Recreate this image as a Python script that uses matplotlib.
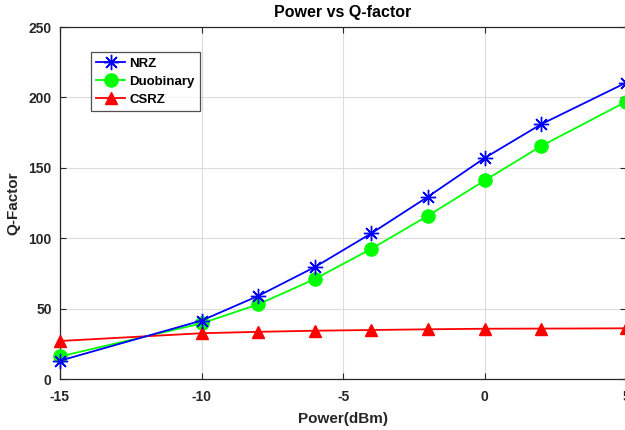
import matplotlib
matplotlib.use("Agg")
import matplotlib.pyplot as plt

# Launch power sweep (dBm) and Q-factor per modulation format
power_dbm = [-15, -10, -8, -6, -4, -2, 0, 2, 5]
q_nrz = [13, 41.5, 59, 79.5, 103.5, 129.5, 157, 181, 210.5]
q_duobinary = [16, 39.5, 53, 71, 92.5, 116, 141, 165.5, 197]
q_csrz = [27, 32.5, 33.5, 34.3, 34.8, 35.3, 35.7, 35.8, 36]

x_ticks = [-15, -10, -5, 0, 5]
y_ticks = [0, 50, 100, 150, 200, 250]

plt.rcParams["font.family"] = ["Liberation Sans", "DejaVu Sans"]

fig = plt.figure(figsize=(6.25, 4.3), dpi=100)
ax = fig.add_axes([0.096, 0.1186, 0.906, 0.8186])

ax.plot(power_dbm, q_nrz, color="#0000ff", lw=1.3, marker=(8, 2, 0),
        markersize=11, markeredgewidth=1.0, label="NRZ", clip_on=False, zorder=4)
ax.plot(power_dbm, q_duobinary, color="#00ff00", lw=1.3, marker="o",
        markersize=9.5, markerfacecolor="#00ff00", markeredgecolor="#00ff00",
        label="Duobinary", clip_on=False, zorder=3)
ax.plot(power_dbm, q_csrz, color="#ff0000", lw=1.3, marker="^",
        markersize=8.5, markerfacecolor="#ff0000", markeredgecolor="#ff0000",
        label="CSRZ", clip_on=False, zorder=3)

ax.set_xlim(-15, 5)
ax.set_ylim(0, 250)
ax.set_xticks(x_ticks)
ax.set_yticks(y_ticks)
ax.set_xticklabels([str(t) for t in x_ticks])
ax.grid(True, color="#dcdcdc", lw=0.8)
ax.set_axisbelow(True)

for side in ax.spines.values():
    side.set_color("#262626")
    side.set_linewidth(0.9)

ax.tick_params(direction="in", top=True, right=True, length=4,
               colors="#262626", labelsize=10, width=0.8)
ax.tick_params(axis="x", pad=8)
ax.tick_params(axis="y", pad=6)
for lbl in ax.get_xticklabels() + ax.get_yticklabels():
    lbl.set_fontweight("bold")

ax.set_title("Power vs Q-factor", fontsize=11.5, fontweight="bold", pad=7)
ax.set_xlabel("Power(dBm)", fontsize=11, fontweight="bold", color="#262626", labelpad=6)
ax.set_ylabel("Q-Factor", fontsize=11, fontweight="bold", color="#262626", labelpad=6)

leg = ax.legend(loc="upper left", bbox_to_anchor=(0.1456, 0.879),
                bbox_transform=fig.transFigure, frameon=True, fancybox=False,
                edgecolor="#262626", prop={"weight": "bold", "size": 9.5},
                handlelength=2.2, borderpad=0.4, labelspacing=0.45,
                handletextpad=0.3, borderaxespad=0)
leg.get_frame().set_linewidth(0.9)

fig.savefig("out.png", dpi=100)
